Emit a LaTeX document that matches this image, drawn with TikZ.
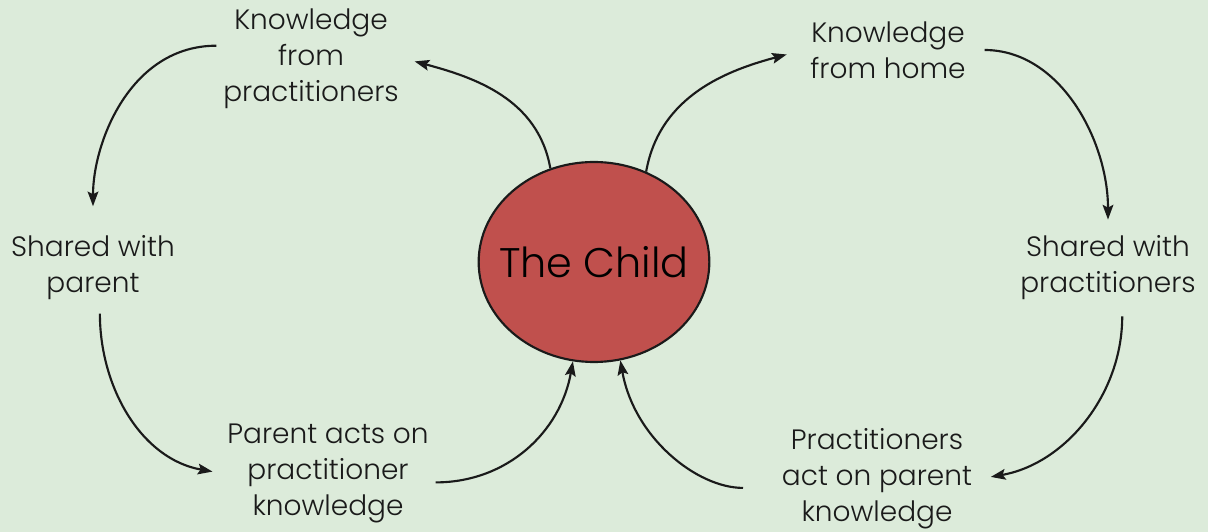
\documentclass[tikz,border=0pt]{standalone}
\usepackage{fontspec}
\setmainfont{Poppins}[UprightFont=* Light]
\usetikzlibrary{shapes.geometric,arrows.meta}

\definecolor{bgmint}{RGB}{220,235,218}
\definecolor{childred}{RGB}{192,80,77}
\definecolor{ink}{RGB}{26,26,26}

\tikzset{
  label/.style={align=center, text=ink, inner sep=5pt,
    font=\fontsize{21}{27}\selectfont},
  flow/.style={draw=ink, line width=1.6pt,
    -{Stealth[length=11pt,width=8pt,inset=2pt]}},
}

\begin{document}
\begin{tikzpicture}[x=0.75pt,y=0.75pt]
\useasboundingbox[fill=bgmint] (0,0) rectangle (1208,532);

% centre
\node[ellipse, draw=ink, line width=1.6pt, fill=childred,
  minimum width=173pt, minimum height=150pt, inner sep=0pt]
  (child) at (594,270) {};
\node[text=black, font=\fontsize{31}{36}\selectfont] (childname)
  at (child.center) {The Child};

% labels round the loop
\node[label] (kfp)  at (311,473) {Knowledge\\from\\practitioners};
\node[label] (kfh)  at (888,482) {Knowledge\\from home};
\node[label] (swp)  at (93,264)  {Shared with\\parent};
\node[label] (swpr) at (1108,264) {Shared with\\practitioners};
\node[label] (pao)  at (328,59)  {Parent acts on\\practitioner\\knowledge};
\node[label] (pac)  at (877,53)  {Practitioners\\act on parent\\knowledge};

% left loop
\draw[flow, shorten >=7pt] (child.115) to[out=100,in=-15] (kfp.east);
\draw[flow, shorten >=17pt] (kfp.172) to[out=180,in=90] (swp.north);
\draw[flow, shorten <=5pt, shorten >=6pt] (swp.-80) to[out=-90,in=170] (pao.west);
\draw[flow] (pao.-5) to[out=0,in=-100] (child.258);

% right loop
\draw[flow, shorten >=13pt] (child.60) to[out=80,in=195] (kfh.west);
\draw[flow, shorten <=9pt, shorten >=7pt] (kfh.east) to[out=0,in=90] (swpr.north);
\draw[flow, shorten <=7pt, shorten >=9pt] (swpr.-70) to[out=-90,in=10] (pac.east);
\draw[flow, shorten <=24pt] (pac.185) to[out=180,in=-80] (child.285);
\end{tikzpicture}
\end{document}
